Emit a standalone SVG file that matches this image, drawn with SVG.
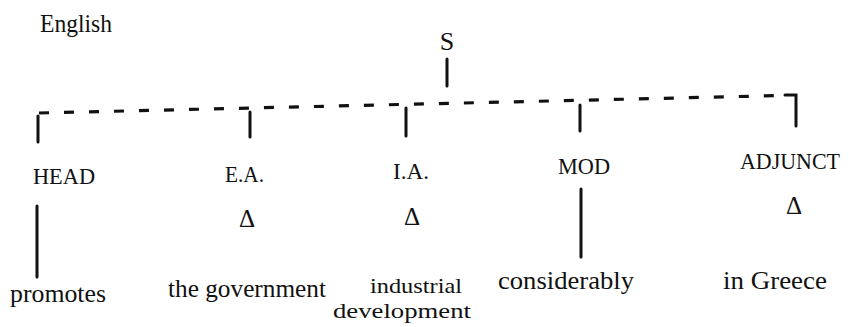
<svg xmlns="http://www.w3.org/2000/svg" width="849" height="327" viewBox="0 0 849 327">
  <style>
    .t { font-family: "Liberation Serif", "Times New Roman", serif; fill: #111; }
    .cap { font-size: 24px; }
    .word { font-size: 26px; }
    .pair { font-size: 22px; }
    .tri { font-size: 25px; text-anchor: middle; }
    .ln { stroke: #111; stroke-width: 3; fill: none; stroke-linecap: round; }
    .dash { stroke: #111; stroke-width: 3.2; fill: none; stroke-dasharray: 10 15; }
  </style>
  <rect width="849" height="327" fill="#fff"/>

  <text class="t word" x="40" y="32" textLength="72" lengthAdjust="spacingAndGlyphs">English</text>

  <!-- connectors: root stem, dashed bar, branch ticks and lexical stems -->
  <g id="connectors">
    <line class="ln" x1="447" y1="59" x2="447" y2="86"/>
    <path class="dash" d="M39 113 L782 95.5"/>
    <polyline class="ln" points="785,95 796,95 796,126"/>
    <line class="ln" x1="38" y1="116" x2="38" y2="142"/>
    <line class="ln" x1="250" y1="112" x2="250" y2="137"/>
    <line class="ln" x1="406" y1="108" x2="406" y2="136"/>
    <line class="ln" x1="580" y1="105" x2="580" y2="131"/>
    <line class="ln" x1="37" y1="206" x2="37" y2="277"/>
    <line class="ln" x1="581" y1="189" x2="581" y2="257"/>
  </g>

  <g id="node-S">
    <text class="t word" x="447" y="50" text-anchor="middle">S</text>
  </g>

  <g id="node-head">
    <text class="t cap" x="33" y="184" textLength="62" lengthAdjust="spacingAndGlyphs">HEAD</text>
    <text class="t word" x="10" y="302" textLength="96" lengthAdjust="spacingAndGlyphs">promotes</text>
  </g>

  <g id="node-ea">
    <text class="t cap" x="225" y="181.5" textLength="39" lengthAdjust="spacingAndGlyphs">E.A.</text>
    <text class="t tri" x="247" y="227">Δ</text>
    <text class="t word" x="168" y="297" textLength="158" lengthAdjust="spacingAndGlyphs">the government</text>
  </g>

  <g id="node-ia">
    <text class="t cap" x="393" y="178.5" textLength="36" lengthAdjust="spacingAndGlyphs">I.A.</text>
    <text class="t tri" x="412" y="225">Δ</text>
    <text class="t pair" x="370" y="293" textLength="92" lengthAdjust="spacingAndGlyphs">industrial</text>
    <text class="t pair" x="333" y="318" textLength="138" lengthAdjust="spacingAndGlyphs">development</text>
  </g>

  <g id="node-mod">
    <text class="t cap" x="558" y="174" textLength="52" lengthAdjust="spacingAndGlyphs">MOD</text>
    <text class="t word" x="498" y="289" textLength="136" lengthAdjust="spacingAndGlyphs">considerably</text>
  </g>

  <g id="node-adjunct">
    <text class="t cap" x="740" y="169" textLength="100" lengthAdjust="spacingAndGlyphs">ADJUNCT</text>
    <text class="t tri" x="794" y="214">Δ</text>
    <text class="t word" x="723" y="289" textLength="104" lengthAdjust="spacingAndGlyphs">in Greece</text>
  </g>
</svg>
